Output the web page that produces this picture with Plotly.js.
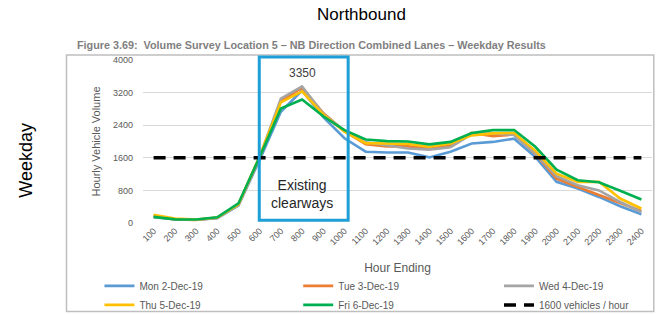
<!DOCTYPE html>
<html>
<head>
<meta charset="utf-8">
<script src="https://cdn.plot.ly/plotly-3.0.1.min.js"></script>
<style>html,body{margin:0;padding:0;background:#fff;}#chart{width:657px;height:315px;}</style>
</head>
<body>
<div id="chart"></div>
<script>
const hours = ["100","200","300","400","500","600","700","800","900","1000","1100","1200","1300","1400","1500","1600","1700","1800","1900","2000","2100","2200","2300","2400"];
const seriesNames = ["Mon 2-Dec-19","Tue 3-Dec-19","Wed 4-Dec-19","Thu 5-Dec-19","Fri 6-Dec-19"];
const mon = [150,100,80,120,430,1550,2730,3250,2600,2080,1750,1730,1730,1610,1750,1950,1990,2070,1620,1010,845,640,410,215];
const tue = [170,90,75,130,450,1600,2990,3320,2700,2250,1930,1880,1880,1830,1900,2210,2130,2170,1700,1090,885,680,490,295];
const wed = [140,95,80,125,440,1620,3050,3350,2680,2260,1980,1900,1830,1800,1860,2180,2200,2160,1710,1150,925,800,515,270];
const thu = [200,110,85,135,460,1640,2960,3230,2660,2240,1960,1950,1940,1870,1950,2150,2200,2210,1770,1210,1005,1010,600,355];
const fri = [150,90,85,140,480,1620,2810,3030,2620,2280,2050,2010,2000,1930,1990,2210,2280,2280,1870,1310,1050,1000,790,575];
const thresholdName = "1600 vehicles / hour";
const threshold = 1600;
const colors = ["#5B9BD5","#ED7D31","#A5A5A5","#FFC000","#00B050"];
const yTicks = [0,800,1600,2400,3200,4000];

const legendIds = ['legend','legend2','legend3','legend','legend2','legend3'];

const allSeries = [mon,tue,wed,thu,fri];
const traces = allSeries.map((v,i)=>({
  x: hours, y: v, type:'scatter', mode:'lines', name: seriesNames[i],
  legend: legendIds[i], legendgroup:'g'+i,
  line:{color:colors[i], width:2.6}
}));
traces.push({
  x: hours, y: hours.map(()=>threshold), type:'scatter', mode:'lines', name: thresholdName,
  legend: legendIds[5], legendgroup:'g5',
  line:{color:'#000000', width:3.5, dash:'12px,8px'}
});

let peak = -1, peakIdx = 0;
allSeries.forEach(s=>s.forEach((v,j)=>{ if(v>peak){peak=v;peakIdx=j;} }));

const PL = 142.6, PR = 652.2, PT = 60, PB = 222.7;
const W = PR-PL, H = PB-PT;
const px = x => (x-PL)/W;
const py = y => (PB-y)/H;

const legendBase = {
  orientation:'v', xanchor:'left', yanchor:'top', y:py(271),
  font:{size:10, color:'#595959'}, bgcolor:'rgba(0,0,0,0)', tracegroupgap:0, borderwidth:0
};

const layout = {
  width:657, height:315,
  margin:{l:PL, r:657-PR, t:PT, b:315-PB, pad:0, autoexpand:false},
  paper_bgcolor:'#ffffff', plot_bgcolor:'#ffffff',
  font:{family:'"Liberation Sans", Arial, sans-serif', color:'#595959'},
  showlegend:true,
  xaxis:{
    type:'category', range:[-0.5, hours.length-0.5], tickangle:-45, tickfont:{size:9, color:'#595959'},
    showgrid:false, zeroline:false, showline:false, ticks:'', automargin:false,
    title:{text:'Hour Ending', font:{size:12, color:'#595959'}, standoff:17}
  },
  yaxis:{
    range:[0,4000], tickvals:yTicks, ticktext:yTicks.map(String), automargin:false,
    tickfont:{size:9, color:'#595959'}, gridcolor:'#d9d9d9', gridwidth:1,
    zeroline:false, showline:false, ticks:'', ticklen:0, ticklabelstandoff:9,
    title:{text:'Hourly Vehicle Volume', font:{size:11, color:'#595959'}, standoff:10}
  },
  legend:Object.assign({}, legendBase, {x:px(99)}),
  legend2:Object.assign({}, legendBase, {x:px(298)}),
  legend3:Object.assign({}, legendBase, {x:px(499)}),
  shapes:[
    {type:'rect', xref:'paper', yref:'paper', x0:px(66), x1:px(654), y0:py(311), y1:py(55),
     line:{color:'#bfbfbf', width:1.5}, layer:'below'},
    {type:'rect', xref:'paper', yref:'paper', x0:px(259), x1:px(348), y0:py(220), y1:py(57),
     line:{color:'#1E9FD8', width:3}}
  ],
  annotations:[
    {text:'Northbound', xref:'paper', yref:'paper', x:px(361), y:py(15), showarrow:false,
     font:{size:17, color:'#000000'}, xanchor:'center', yanchor:'middle'},
    {text:'Weekday', xref:'paper', yref:'paper', x:px(26), y:py(160), showarrow:false, textangle:-90,
     font:{size:18, color:'#000000'}, xanchor:'center', yanchor:'middle'},
    {text:'Figure 3.69:  Volume Survey Location 5 \u2013 NB Direction Combined Lanes \u2013 Weekday Results',
     xref:'paper', yref:'paper', x:px(75), y:py(45), showarrow:false, xanchor:'left', yanchor:'middle',
     font:{size:10.8, color:'#7f7f7f', family:'"Liberation Sans", Arial, sans-serif', weight:'bold'}},
    {text:String(peak), xref:'x', yref:'y', x:peakIdx, y:peak, yshift:4, showarrow:false,
     font:{size:12, color:'#404040'}, xanchor:'center', yanchor:'bottom'},
    {text:'Existing<br>clearways', xref:'x', yref:'paper', x:peakIdx, y:py(194), showarrow:false,
     font:{size:14, color:'#262626'}, xanchor:'center', yanchor:'middle'}
  ]
};

Plotly.newPlot('chart', traces, layout, {displayModeBar:false, staticPlot:true});
</script>
</body>
</html>
